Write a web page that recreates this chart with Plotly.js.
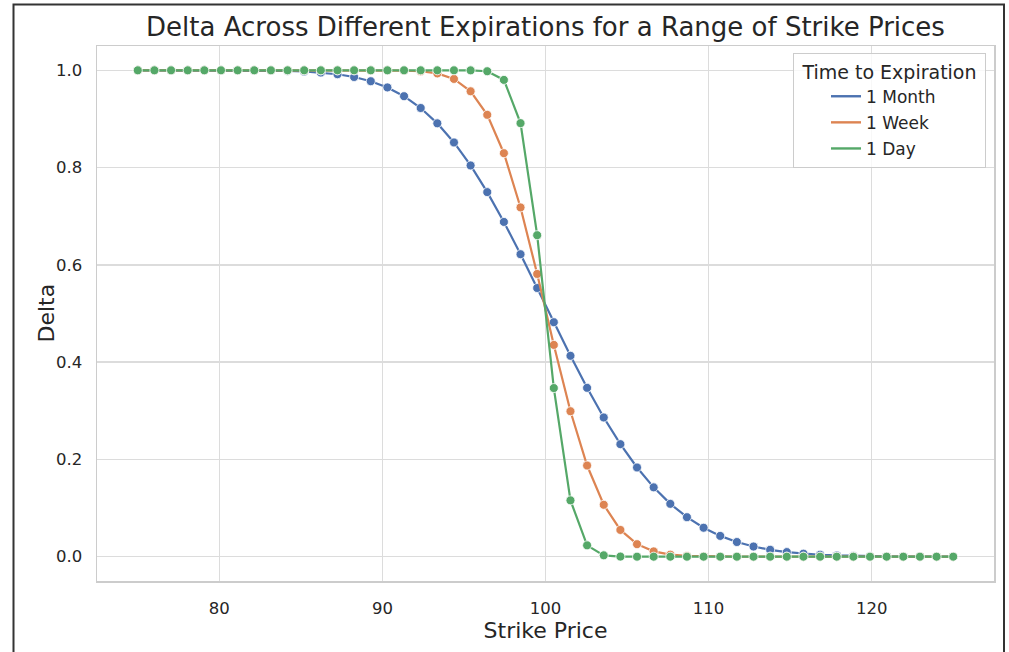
<!DOCTYPE html>
<html>
<head>
<meta charset="utf-8">
<script src="https://cdn.plot.ly/plotly-3.0.1.min.js"></script>
<style>
html,body{margin:0;padding:0;background:#fff;}
#chart{width:1009px;height:652px;}
</style>
</head>
<body>
<div id="chart"></div>
<script>
const strikes = [75.000, 76.020, 77.041, 78.061, 79.082, 80.102, 81.122, 82.143, 83.163, 84.184,
  85.204, 86.224, 87.245, 88.265, 89.286, 90.306, 91.327, 92.347, 93.367, 94.388,
  95.408, 96.429, 97.449, 98.469, 99.490, 100.510, 101.531, 102.551, 103.571, 104.592,
  105.612, 106.633, 107.653, 108.673, 109.694, 110.714, 111.735, 112.755, 113.776, 114.796,
  115.816, 116.837, 117.857, 118.878, 119.898, 120.918, 121.939, 122.959, 123.980, 125.000];

const deltaMonth = [0.99999, 0.99999, 0.99999, 0.99999, 0.99998, 0.99995, 0.99988, 0.99972, 0.99940, 0.99876,
  0.99757, 0.99548, 0.99195, 0.98629, 0.97758, 0.96482, 0.94680, 0.92255, 0.89103, 0.85168,
  0.80441, 0.74959, 0.68826, 0.62191, 0.55243, 0.48210, 0.41301, 0.34716, 0.28620, 0.23137,
  0.18343, 0.14254, 0.10862, 0.08118, 0.05948, 0.04273, 0.03014, 0.02087, 0.01418, 0.00947,
  0.00621, 0.00400, 0.00253, 0.00158, 0.00097, 0.00059, 0.00035, 0.00020, 0.00012, 0.00007];

const deltaWeek = [1.0, 1.0, 1.0, 1.0, 1.0, 1.0, 1.0, 1.0, 1.0, 1.0,
  1.0, 1.0, 1.0, 1.0, 0.99998, 0.99989, 0.9995, 0.99808, 0.99371, 0.9823,
  0.9569, 0.9085, 0.8296, 0.7181, 0.5813, 0.4354, 0.2991, 0.1874, 0.1067, 0.0550,
  0.0257, 0.0109, 0.0042, 0.0015, 0.0005, 0.0001, 0.0, 0.0, 0.0, 0.0,
  0.0, 0.0, 0.0, 0.0, 0.0, 0.0, 0.0, 0.0, 0.0, 0.0];

const deltaDay = [1.0, 1.0, 1.0, 1.0, 1.0, 1.0, 1.0, 1.0, 1.0, 1.0,
  1.0, 1.0, 1.0, 1.0, 1.0, 1.0, 1.0, 1.0, 1.0, 1.0,
  0.99991, 0.99811, 0.9803, 0.8914, 0.661, 0.3467, 0.1158, 0.0233, 0.0028, 0.0002,
  0.0, 0.0, 0.0, 0.0, 0.0, 0.0, 0.0, 0.0, 0.0, 0.0,
  0.0, 0.0, 0.0, 0.0, 0.0, 0.0, 0.0, 0.0, 0.0, 0.0];

const seriesNames = ['1 Month', '1 Week', '1 Day'];
const xTicks = [80, 90, 100, 110, 120];
const yTicks = [0.0, 0.2, 0.4, 0.6, 0.8, 1.0];

const colors = ['#4c72b0', '#dd8452', '#55a868'];
const seriesData = [deltaMonth, deltaWeek, deltaDay];

const traces = [];
seriesData.forEach((ys, i) => {
  traces.push({
    x: strikes, y: ys, type: 'scatter', mode: 'lines+markers',
    line: {color: colors[i], width: 2.2},
    marker: {color: colors[i], size: 9, line: {color: '#ffffff', width: 0.8}},
    showlegend: false, hoverinfo: 'skip'
  });
});
seriesData.forEach((ys, i) => {
  traces.push({
    x: [null], y: [null], type: 'scatter', mode: 'lines',
    name: seriesNames[i], line: {color: colors[i], width: 2.4},
    showlegend: true, legendgroup: 'g' + i
  });
});

const L = 97, R = 994, T = 46, B = 581;
const W = R - L, H = B - T;
const px = v => (v - L) / W;
const py = v => (B - v) / H;

const font = 'DejaVu Sans, sans-serif';
const layout = {
  width: 1009, height: 652,
  margin: {l: L, r: 1009 - R, t: T, b: 652 - B, pad: 0},
  paper_bgcolor: '#ffffff', plot_bgcolor: '#ffffff',
  font: {family: font, color: '#262626', size: 16.5},
  title: {text: 'Delta Across Different Expirations for a Range of Strike Prices',
    font: {family: font, size: 26, color: '#262626'},
    x: 0.5, xref: 'paper', xanchor: 'center', y: 1 - 27/652, yanchor: 'middle', yref: 'container'},
  xaxis: {
    range: [72.5, 127.5], tickvals: xTicks, ticktext: xTicks.map(String),
    showgrid: true, gridcolor: '#dcdcdc', gridwidth: 1.3,
    zeroline: false, showline: true, linecolor: '#cccccc', linewidth: 1.5, mirror: true,
    ticks: '', ticklabelstandoff: 12,
    tickfont: {family: font, size: 16.5, color: '#262626'},
    title: {text: 'Strike Price', font: {family: font, size: 22, color: '#262626'}, standoff: 3}
  },
  yaxis: {
    range: [-0.05, 1.05], tickvals: yTicks, tickformat: '.1f',
    showgrid: true, gridcolor: '#dcdcdc', gridwidth: 1.3,
    zeroline: false, showline: true, linecolor: '#cccccc', linewidth: 1.5, mirror: true,
    ticks: '', ticklabelstandoff: 10,
    tickfont: {family: font, size: 16.5, color: '#262626'}
  },
  annotations: [{
    text: 'Delta', xref: 'paper', yref: 'paper', x: px(46), y: 0.5,
    xanchor: 'center', yanchor: 'middle', textangle: -90, showarrow: false,
    font: {family: font, size: 22, color: '#262626'}
  }],
  legend: {
    x: px(986), y: py(53), xanchor: 'right', yanchor: 'top',
    bgcolor: 'rgba(255,255,255,0.8)', bordercolor: '#cccccc', borderwidth: 1,
    font: {family: font, size: 17, color: '#262626'},
    title: {text: '\u00a0Time to Expiration\u00a0', font: {family: font, size: 19, color: '#262626'}, side: 'top center'},
    traceorder: 'grouped', tracegroupgap: 1, indentation: 32, itemwidth: 30
  },
  shapes: [{
    type: 'rect', xref: 'paper', yref: 'paper',
    x0: px(13.5), x1: px(1004), y0: py(670), y1: py(4.5),
    line: {color: '#333333', width: 2}, fillcolor: 'rgba(0,0,0,0)', layer: 'above'
  }]
};

Plotly.newPlot('chart', traces, layout, {displayModeBar: false, staticPlot: true});
</script>
</body>
</html>
